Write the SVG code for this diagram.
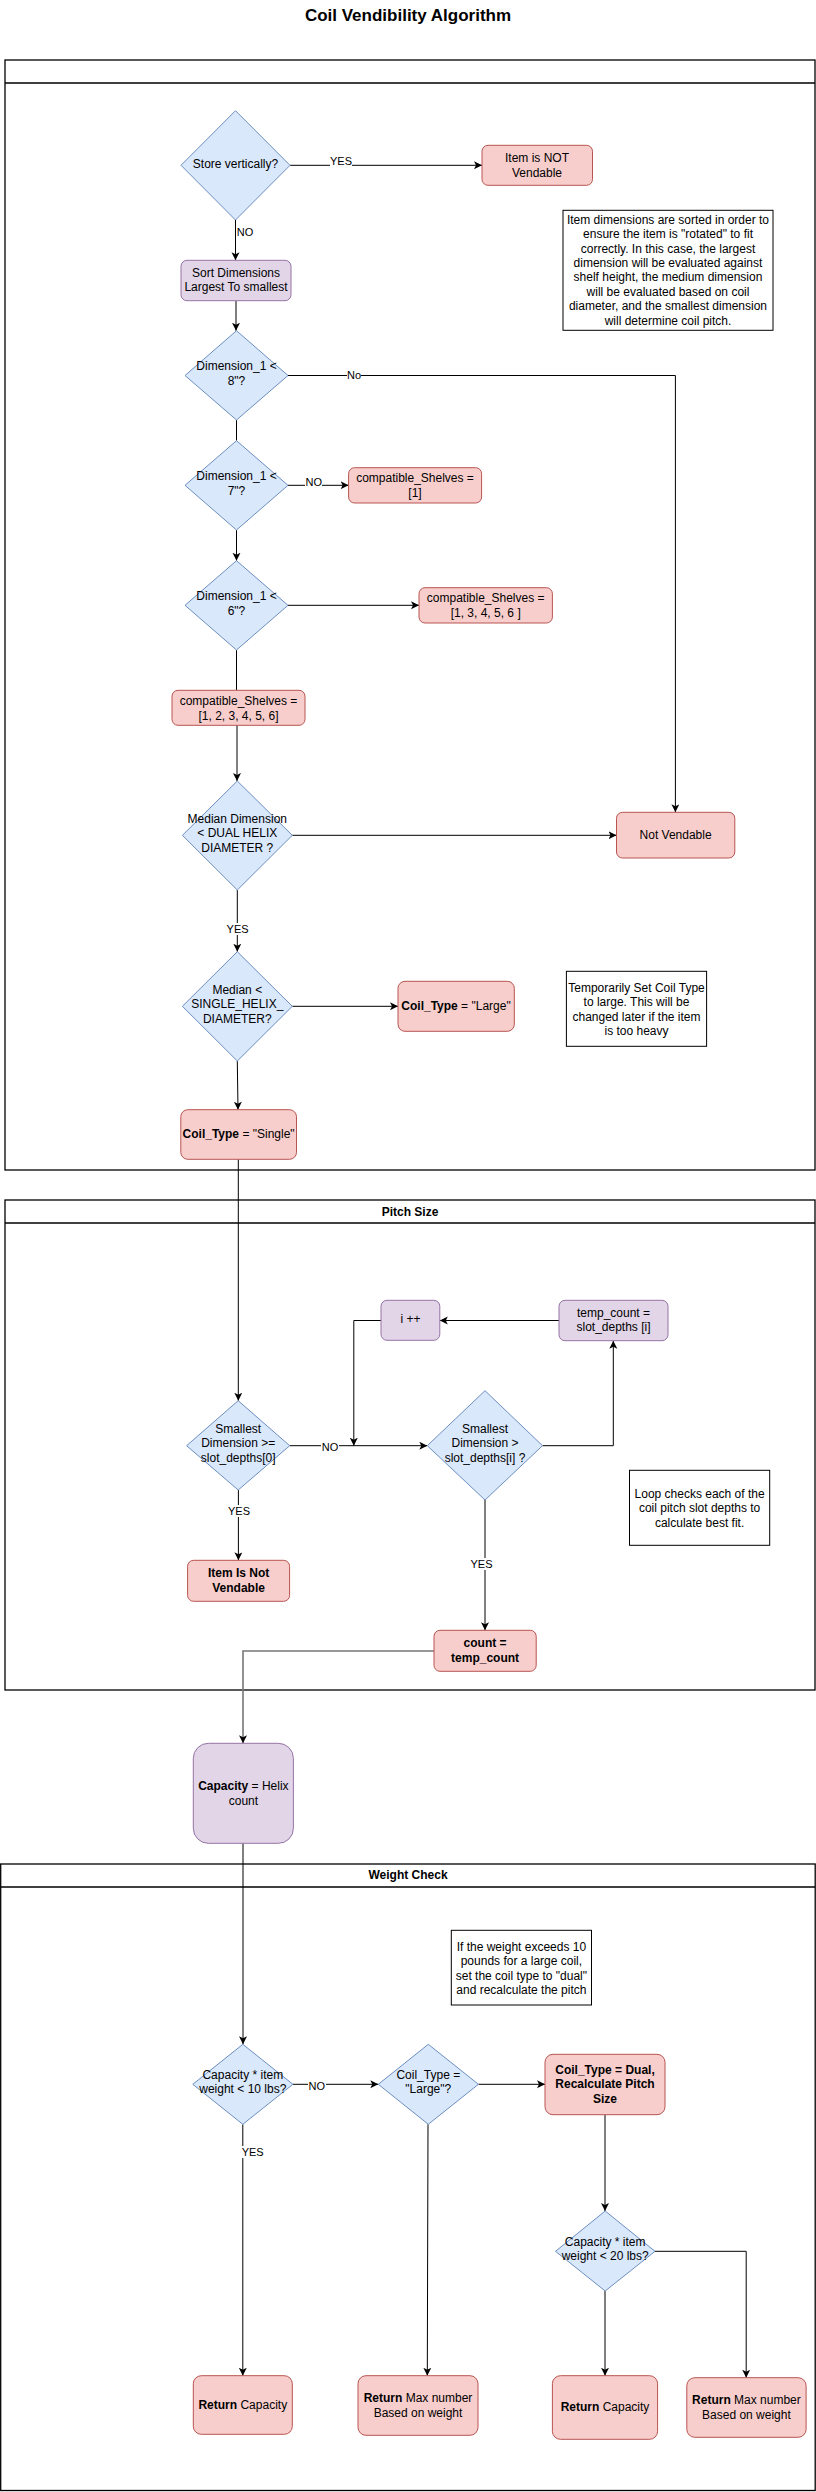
<svg xmlns="http://www.w3.org/2000/svg" width="816" height="2492" viewBox="0 0 816 2492">
<style>
text{font-family:"Liberation Sans",Arial,Helvetica,sans-serif;font-size:12px;fill:#000;text-anchor:middle}
.title{font-size:17px;font-weight:bold}
.pt{font-size:12px;font-weight:bold}
.lbl{font-size:11px}
.b{font-weight:bold}
.pool{fill:none;stroke:#000;stroke-width:1.3}
.dia{fill:#dae8fc;stroke:#6c8ebf;stroke-width:1}
.red{fill:#f8cecc;stroke:#b85450;stroke-width:1}
.pur{fill:#e1d5e7;stroke:#9673a6;stroke-width:1}
.note{fill:#fff;stroke:#000;stroke-width:1}
.c{fill:none;stroke:#000;stroke-width:1}
.cg{fill:none;stroke:#777;stroke-width:1.6}
.lb{fill:#fff}
</style>
<defs>
<marker id="arr" markerWidth="10" markerHeight="10" refX="8" refY="4" orient="auto" markerUnits="userSpaceOnUse"><path d="M0,0 L8,4 L0,8 L2,4 Z" fill="#000"/></marker>
</defs>
<rect width="816" height="2492" fill="#fff"/>
<text class="title" x="408" y="20.5">Coil Vendibility Algorithm</text>

<g id="pool1"><rect class="pool" x="5" y="60" width="810" height="1110"/><line class="pool" x1="5" y1="83" x2="815" y2="83"/></g>
<g id="pool2"><rect class="pool" x="5" y="1200" width="810" height="490"/><line class="pool" x1="5" y1="1223" x2="815" y2="1223"/><text class="pt" x="410" y="1216">Pitch Size</text></g>
<g id="pool3"><rect class="pool" x="0.7" y="1864" width="814.5" height="626.5"/><line class="pool" x1="0.7" y1="1887" x2="815" y2="1887"/><text class="pt" x="408" y="1879">Weight Check</text></g>

<g id="connectors">
<path class="c" d="M290,165.3 H482" marker-end="url(#arr)"/>
<path class="c" d="M235.5,220 V260.3" marker-end="url(#arr)"/>
<path class="c" d="M236,300.7 V330.7" marker-end="url(#arr)"/>
<path class="c" d="M288,375.5 H675.4 V812.3" marker-end="url(#arr)"/>
<path class="c" d="M236.5,420 V440.7"/>
<path class="c" d="M288,485.3 H348.6" marker-end="url(#arr)"/>
<path class="c" d="M236.5,530 V560.7" marker-end="url(#arr)"/>
<path class="c" d="M288,605.3 H419" marker-end="url(#arr)"/>
<path class="c" d="M236.5,650 V690.3"/>
<path class="c" d="M237,725.3 V781" marker-end="url(#arr)"/>
<path class="c" d="M292.3,835.3 H616.5" marker-end="url(#arr)"/>
<path class="c" d="M237.3,890 V951.7" marker-end="url(#arr)"/>
<path class="c" d="M292.3,1006.3 H398" marker-end="url(#arr)"/>
<path class="c" d="M237.3,1061 L238,1109.7" marker-end="url(#arr)"/>
<path class="c" d="M238.3,1159.3 V1400.7" marker-end="url(#arr)"/>
<path class="c" d="M289.7,1445.7 H427.3" marker-end="url(#arr)"/>
<path class="c" d="M542.5,1445.7 H613.3 V1340.7" marker-end="url(#arr)"/>
<path class="c" d="M559,1320.5 H439.8" marker-end="url(#arr)"/>
<path class="c" d="M381,1320.5 H353.8 V1445.7" marker-end="url(#arr)"/>
<path class="c" d="M238.4,1490 V1560.3" marker-end="url(#arr)"/>
<path class="c" d="M485,1500 V1630.3" marker-end="url(#arr)"/>
<path class="cg" d="M434,1651 H243 V1743.3" marker-end="url(#arr)"/>
<path class="c" d="M243,1843.3 V2044.3" marker-end="url(#arr)"/>
<path class="c" d="M292.9,2084.3 H378.3" marker-end="url(#arr)"/>
<path class="c" d="M478.4,2084.3 H545" marker-end="url(#arr)"/>
<path class="c" d="M605,2114.7 V2211" marker-end="url(#arr)"/>
<path class="c" d="M655,2251.3 H746.2 V2377.7" marker-end="url(#arr)"/>
<path class="c" d="M605,2291 V2375.7" marker-end="url(#arr)"/>
<path class="c" d="M242.8,2124.3 V2375.7" marker-end="url(#arr)"/>
<path class="c" d="M428,2124.3 L427.3,2375.7" marker-end="url(#arr)"/>
<rect class="lb" x="330" y="155" width="22" height="12"/><text class="lbl" x="341" y="165">YES</text>
<rect class="lb" x="237" y="226" width="17" height="12"/><text class="lbl" x="245" y="236">NO</text>
<rect class="lb" x="347" y="369" width="14" height="12"/><text class="lbl" x="354" y="378.5">No</text>
<rect class="lb" x="305" y="476" width="17" height="12"/><text class="lbl" x="313.7" y="486">NO</text>
<rect class="lb" x="226" y="923" width="23" height="12"/><text class="lbl" x="237.6" y="933">YES</text>
<rect class="lb" x="321" y="1441" width="18" height="12"/><text class="lbl" x="330" y="1451">NO</text>
<rect class="lb" x="228" y="1505" width="23" height="12"/><text class="lbl" x="239" y="1515">YES</text>
<rect class="lb" x="470" y="1558" width="23" height="12"/><text class="lbl" x="481.5" y="1568">YES</text>
<rect class="lb" x="308" y="2080" width="18" height="12"/><text class="lbl" x="316.8" y="2090">NO</text>
<rect class="lb" x="241" y="2146" width="23" height="12"/><text class="lbl" x="252.7" y="2156">YES</text>
</g>

<g id="n1"><polygon class="dia" points="235.5,110.7 290,165.3 235.5,220 181,165.3"/><text x="235.5" y="167.5">Store vertically?</text></g>
<g id="n2"><rect class="red" x="482" y="145.3" width="110.5" height="40" rx="6"/><text x="537" y="161.7">Item is NOT</text><text x="537" y="176.7">Vendable</text></g>
<g id="note1"><rect class="note" x="563" y="210.3" width="210" height="120"/>
<text x="668" y="224">Item dimensions are sorted in order to</text>
<text x="668" y="238.3">ensure the item is "rotated" to fit</text>
<text x="668" y="252.7">correctly. In this case, the largest</text>
<text x="668" y="267">dimension will be evaluated against</text>
<text x="668" y="281.3">shelf height, the medium dimension</text>
<text x="668" y="295.7">will be evaluated based on coil</text>
<text x="668" y="310">diameter, and the smallest dimension</text>
<text x="668" y="324.5">will determine coil pitch.</text></g>
<g id="n3"><rect class="pur" x="181" y="260.3" width="110" height="40.4" rx="6"/><text x="236" y="276.7">Sort Dimensions</text><text x="236" y="291">Largest To smallest</text></g>
<g id="n4"><polygon class="dia" points="236.5,330.7 288,375.5 236.5,420 185,375.5"/><text x="236.5" y="369.7">Dimension_1 &lt;</text><text x="236.5" y="384.7">8"?</text></g>
<g id="n5"><polygon class="dia" points="236.5,440.7 288,485.3 236.5,530 185,485.3"/><text x="236.5" y="480">Dimension_1 &lt;</text><text x="236.5" y="495">7"?</text></g>
<g id="n6"><rect class="red" x="348.6" y="467.7" width="133" height="35.3" rx="6"/><text x="415" y="482.3">compatible_Shelves =</text><text x="415" y="497">[1]</text></g>
<g id="n7"><polygon class="dia" points="236.5,560.7 288,605.3 236.5,650 185,605.3"/><text x="236.5" y="600">Dimension_1 &lt;</text><text x="236.5" y="614.7">6"?</text></g>
<g id="n8"><rect class="red" x="419" y="587.7" width="133.4" height="35.3" rx="6"/><text x="485.7" y="602.3">compatible_Shelves =</text><text x="485.7" y="616.7">[1, 3, 4, 5, 6 ]</text></g>
<g id="n9"><rect class="red" x="172" y="690.3" width="133" height="35" rx="6"/><text x="238.5" y="705">compatible_Shelves =</text><text x="238.5" y="719.7">[1, 2, 3, 4, 5, 6]</text></g>
<g id="n10"><polygon class="dia" points="237.3,781 292.3,835.3 237.3,890 182.4,835.3"/><text x="237.3" y="822.7">Median Dimension</text><text x="237.3" y="836.7">&lt; DUAL HELIX</text><text x="237.3" y="851.7">DIAMETER ?</text></g>
<g id="n11"><rect class="red" x="616.5" y="812.3" width="118.3" height="45.7" rx="6"/><text x="675.6" y="838.7">Not Vendable</text></g>
<g id="n12"><polygon class="dia" points="237.3,951.7 292.3,1006.3 237.3,1061 182.4,1006.3"/><text x="237.3" y="993.7">Median &lt;</text><text x="237.3" y="1008">SINGLE_HELIX_</text><text x="237.3" y="1022.7">DIAMETER?</text></g>
<g id="n13"><rect class="red" x="398" y="981.3" width="116.3" height="50" rx="7"/><text x="456" y="1010.3"><tspan class="b">Coil_Type</tspan> = "Large"</text></g>
<g id="note2"><rect class="note" x="566.4" y="971.3" width="140.2" height="75"/>
<text x="636.5" y="991.7">Temporarily Set Coil Type</text>
<text x="636.5" y="1005.7">to large. This will be</text>
<text x="636.5" y="1020.7">changed later if the item</text>
<text x="636.5" y="1034.7">is too heavy</text></g>
<g id="n14"><rect class="red" x="180.8" y="1109.7" width="115.7" height="49.6" rx="7"/><text x="238.6" y="1138"><tspan class="b">Coil_Type</tspan> = "Single"</text></g>

<g id="n15"><polygon class="dia" points="238.2,1400.7 289.7,1445.7 238.2,1490 186.6,1445.7"/><text x="238.2" y="1432.7">Smallest</text><text x="238.2" y="1447">Dimension &gt;=</text><text x="238.2" y="1461.7">slot_depths[0]</text></g>
<g id="n16"><polygon class="dia" points="485,1390.7 542.5,1445.7 485,1500 427.3,1445.7"/><text x="485" y="1432.7">Smallest</text><text x="485" y="1447">Dimension &gt;</text><text x="485" y="1461.7">slot_depths[i] ?</text></g>
<g id="n17"><rect class="pur" x="559" y="1300.3" width="109" height="40.4" rx="6"/><text x="613.5" y="1316.7">temp_count =</text><text x="613.5" y="1331.3">slot_depths [i]</text></g>
<g id="n18"><rect class="pur" x="381" y="1300.3" width="58.8" height="40" rx="6"/><text x="410.4" y="1323.3">i ++</text></g>
<g id="n19"><rect class="red" x="187.6" y="1560.3" width="102" height="41" rx="6"/><text class="b" x="238.6" y="1576.7">Item Is Not</text><text class="b" x="238.6" y="1591.7">Vendable</text></g>
<g id="note3"><rect class="note" x="629.5" y="1470.3" width="140.2" height="75"/>
<text x="699.6" y="1497.7">Loop checks each of the</text>
<text x="699.6" y="1512">coil pitch slot depths  to</text>
<text x="699.6" y="1526.7">calculate best fit.</text></g>
<g id="n20"><rect class="red" x="434" y="1630.3" width="102.2" height="41" rx="6"/><text class="b" x="485.1" y="1647">count =</text><text class="b" x="485.1" y="1661.7">temp_count</text></g>

<g id="n21"><rect class="pur" x="193.3" y="1743.3" width="100.1" height="100" rx="15"/><text x="243.4" y="1789.7"><tspan class="b">Capacity</tspan> = Helix</text><text x="243.4" y="1804.7">count</text></g>
<g id="note4"><rect class="note" x="451.3" y="1930.3" width="140.2" height="74.7"/>
<text x="521.4" y="1950.7">If the weight exceeds 10</text>
<text x="521.4" y="1965">pounds for a large coil,</text>
<text x="521.4" y="1980">set the coil type to "dual"</text>
<text x="521.4" y="1994">and recalculate the pitch</text></g>

<g id="n22"><polygon class="dia" points="242.8,2044.3 292.9,2084.3 242.8,2124.3 192.8,2084.3"/><text x="242.8" y="2079">Capacity * item</text><text x="242.8" y="2093.3">weight &lt; 10 lbs?</text></g>
<g id="n23"><polygon class="dia" points="428.3,2044.3 478.4,2084.3 428.3,2124.3 378.3,2084.3"/><text x="428.3" y="2079">Coil_Type =</text><text x="428.3" y="2093.3">"Large"?</text></g>
<g id="n24"><rect class="red" x="545" y="2054.3" width="120" height="60.4" rx="8"/><text class="b" x="605" y="2073.7">Coil_Type = Dual,</text><text class="b" x="605" y="2087.7">Recalculate Pitch</text><text class="b" x="605" y="2102.7">Size</text></g>
<g id="n25"><polygon class="dia" points="605.2,2211 655,2251.3 605.2,2291 555.5,2251.3"/><text x="605.2" y="2246">Capacity * item</text><text x="605.2" y="2260.3">weight &lt; 20 lbs?</text></g>
<g id="n26"><rect class="red" x="193.3" y="2375.7" width="99" height="58.6" rx="8"/><text x="242.8" y="2408.7"><tspan class="b">Return</tspan> Capacity</text></g>
<g id="n27"><rect class="red" x="358" y="2375.7" width="120" height="59.6" rx="8"/><text x="418" y="2401.7"><tspan class="b">Return</tspan> Max number</text><text x="418" y="2416.7">Based on weight</text></g>
<g id="n28"><rect class="red" x="552.4" y="2375.7" width="105.2" height="63.6" rx="8"/><text x="605" y="2410.7"><tspan class="b">Return</tspan> Capacity</text></g>
<g id="n29"><rect class="red" x="686.8" y="2377.7" width="119.3" height="59.6" rx="8"/><text x="746.4" y="2403.7"><tspan class="b">Return</tspan> Max number</text><text x="746.4" y="2418.7">Based on weight</text></g>
</svg>
